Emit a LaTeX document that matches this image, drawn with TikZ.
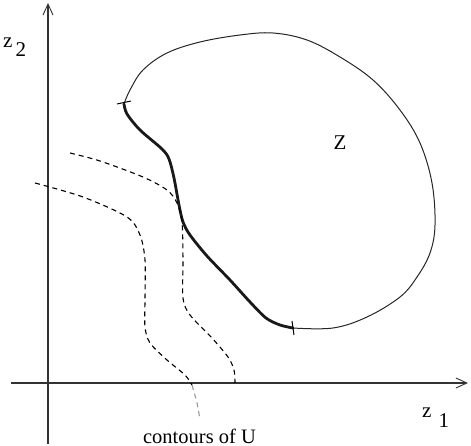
\documentclass[tikz,border=0pt]{standalone}
\usepackage{fontspec}
\setmainfont{Liberation Serif}
\usetikzlibrary{arrows.meta}
\begin{document}
\begin{tikzpicture}[x=1pt,y=-1pt,
  axis/.style={line width=1.1pt,draw=black!80,-{Straight Barb[length=11pt,width=10pt,line width=0.9pt]}},
  thinc/.style={line width=1pt,draw=black!85},
  thickc/.style={line width=2.8pt,draw=black!90,line cap=round,line join=round},
  contour/.style={line width=1.1pt,dash pattern=on 5pt off 4pt},
  lbl/.style={inner sep=0pt,font=\fontsize{21}{24}\selectfont},
  tickmark/.style={line width=1pt}]
\useasboundingbox (0,0) rectangle (471,446);
% axes
\coordinate (vb) at (48,444);
\coordinate (vt) at (48,3);
\coordinate (hl) at (11,383);
\coordinate (hr) at (468,383);
\draw[axis] (vb) -- (vt);
\draw[axis] (hl) -- (hr);
% boundary of Z (thin part)
\draw[thinc] plot[smooth,tension=0.6] coordinates {(293,328) (333,328) (367,317) (400,297) (417,277) (430,253) (435,225) (432,183) (420,143) (400,110) (373,80) (340,57) (307,40) (273,33) (240,35) (200,42) (167,53) (143,70) (130,90) (124,104)};
% thick part
\draw[thickc] plot[smooth,tension=0.5] coordinates {(124,104) (127,114) (140,130) (162,149) (169,159) (174,178) (179,205) (183,222) (190,235) (207,256) (230,280) (250,302) (266,318) (280,325) (293,328)};
% ticks
\coordinate (t1a) at (117,104); \coordinate (t1b) at (131,101);
\coordinate (t2a) at (292,321); \coordinate (t2b) at (294,335);
\draw[tickmark] (t1a) -- (t1b);
\draw[tickmark] (t2a) -- (t2b);
% contours of U
\draw[contour] plot[smooth,tension=0.5] coordinates {(70,153) (100,161) (143,177) (167,190) (177,203) (182,222) (183,260) (183,298) (190,315) (212,338) (228,357) (234,370) (235,383)};
\draw[contour] plot[smooth,tension=0.5] coordinates {(35,183) (83,197) (127,217) (140,235) (145,260) (145,300) (145,327) (150,343) (167,360) (185,375) (192,385)};
\draw[contour,draw=black!40] plot[smooth,tension=0.5] coordinates {(192,385) (197,403) (200,420)};
% labels
\node[lbl,anchor=base west] (z2) at (3,48) {z\hspace{3pt}\raisebox{-9pt}{2}};
\node[lbl,anchor=base west] (z1) at (422,417) {z\hspace{7pt}\raisebox{-10pt}{1}};
\node[lbl] (Z) at (340,143) {Z};
\node[lbl,anchor=base,font=\fontsize{20.5}{24}\selectfont] (cu) at (199.5,443) {contours of U};
\end{tikzpicture}
\end{document}
